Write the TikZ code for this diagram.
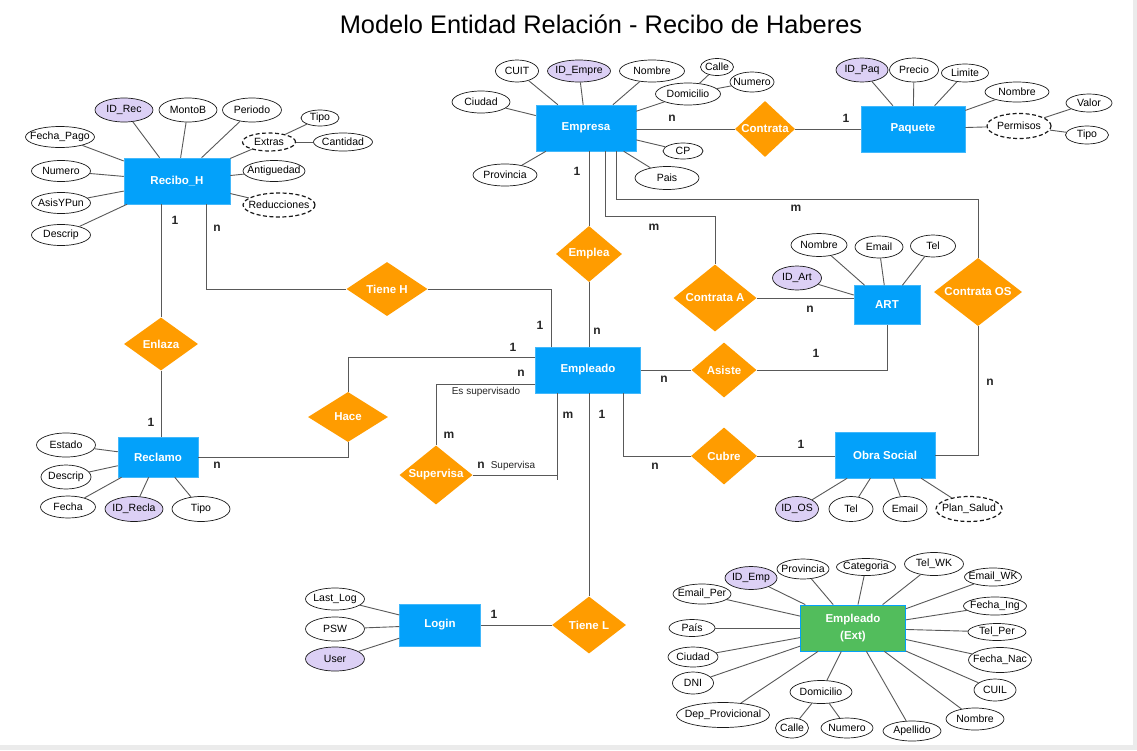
\documentclass[tikz,border=0pt]{standalone}
\usepackage{fontspec}
\setmainfont{Liberation Sans}
\usetikzlibrary{shapes.geometric}
\definecolor{entblue}{HTML}{03A1FA}
\definecolor{relor}{HTML}{FF9C00}
\definecolor{keyfill}{HTML}{DCD0F5}
\definecolor{extgreen}{HTML}{52BD5C}
\definecolor{lncol}{HTML}{595959}
\newcommand\entfont{\fontsize{11.5}{17}\selectfont\bfseries}
\begin{document}
\begin{tikzpicture}[x=1pt,y=-1pt,
  sz/.style 2 args={minimum width=#1pt, minimum height=#2pt},
  ent/.style={rectangle, fill=entblue, draw=entblue!75!white, line width=0.5pt, text=white, font=\entfont, inner sep=0pt, align=center},
  reltxt/.style={text=white, font=\entfont, inner sep=0pt},
  rel/.style={diamond, fill=relor, inner sep=0pt, label={[reltxt]center:#1}},
  attrtxt/.style={font=\fontsize{10.5}{12}\selectfont, inner sep=0pt, text=black},
  attr/.style={ellipse, draw=black!90, line width=0.7pt, fill=white, inner sep=0pt, label={[attrtxt]center:#1}},
  keyattr/.style={attr=#1, fill=keyfill},
  multi/.style={attr=#1, dash pattern=on 4pt off 2.5pt, line width=1.2pt},
  card/.style={font=\fontsize{12}{14}\selectfont\bfseries, text=black!85, inner sep=0pt},
  note/.style={font=\fontsize{10}{12}\selectfont, text=black!85, inner sep=0pt},
  conn/.style={draw=lncol, line width=0.9pt}
]
\useasboundingbox (0,0) rectangle (1137,750);
\fill[white] (0,0) rectangle (1137,750);
\fill[black!8] (1133,0) rectangle (1137,750);
\fill[black!8] (0,745) rectangle (1137,750);

\node[font=\fontsize{25.4}{30}\selectfont] (title) at (601,24) {Modelo Entidad Relación - Recibo de Haberes};

% entities
\node[ent, sz={106}{46}] (recibo) at (177,181) {Recibo\_H};
\node[ent, sz={100}{46}] (empresa) at (586,128) {Empresa};
\node[ent, sz={104}{46}] (paquete) at (913,129) {Paquete};
\node[ent, sz={66}{39}] (art) at (887,305) {ART};
\node[ent, sz={105}{46}] (empleado) at (588,370) {Empleado};
\node[ent, sz={80}{40}] (reclamo) at (158,457) {Reclamo};
\node[ent, sz={100}{46}] (os) at (885,455) {Obra Social};
\node[ent, sz={81}{42}] (login) at (440,625) {Login};
\node[ent, fill=extgreen, draw=entblue, line width=0.8pt, sz={105}{46}] (ext) at (853,628) {Empleado\\(Ext)};

% relationships
\node[rel=Contrata, sz={60}{56}] (contrata) at (765,129) {};
\node[rel=Emplea, sz={66}{56}] (emplea) at (589,254) {};
\node[rel=Contrata A, sz={83}{67}] (ca) at (715,298) {};
\node[rel=Contrata OS, sz={88}{68}] (cos) at (978,292) {};
\node[rel=Tiene H, sz={81}{54}] (tieneh) at (387,289) {};
\node[rel=Enlaza, sz={74}{53}] (enlaza) at (161,344) {};
\node[rel=Asiste, sz={65}{55}] (asiste) at (724,370) {};
\node[rel=Hace, sz={80}{50}] (hace) at (348,417) {};
\node[rel=Supervisa, sz={73}{59}] (sup) at (436,475) {};
\node[rel=Cubre, sz={66}{57}] (cubre) at (724,456) {};
\node[rel=Tiene L, sz={74}{57}] (tienel) at (589,625) {};

% relationship connectors
\draw[conn] (contrata.west -| empresa.east) -- (contrata.west);
\draw[conn] (contrata.east) -- (contrata.east -| paquete.west);
\draw[conn] (emplea.north |- empresa.south) -- (emplea.north);
\draw[conn] (emplea.south) -- (emplea.south |- empleado.north);
\draw[conn] ([xshift=19pt]empresa.south) -- ++(0,65) -| (ca.north);
\draw[conn] ([xshift=30pt]empresa.south) -- ++(0,48) -| (cos.north);
\draw[conn] (ca.east) -- (ca.east -| art.west);
\draw[conn] (cos.south) |- (os.east);
\draw[conn] (empleado.east) -- (asiste.west);
\draw[conn] (asiste.east) -| (art.south);
\draw[conn] ([xshift=35pt]empleado.south) |- (cubre.west);
\draw[conn] (cubre.east) -- (cubre.east -| os.west);
\draw[conn] (tienel.north |- empleado.south) -- (tienel.north);
\draw[conn] (tienel.west) -- (tienel.west -| login.east);
\draw[conn] ([yshift=-14pt]empleado.west) -| (sup.north);
\coordinate (sv) at ([xshift=-31pt]empleado.south);
\draw[conn] (sv) -- ++(0,87);
\draw[conn] (sup.east) -- (sup.east -| sv);
\draw[conn] ([yshift=13pt]empleado.west) -| (hace.north);
\draw[conn] (hace.south) |- (reclamo.east);
\draw[conn] (tieneh.east) -| ([xshift=-37pt]empleado.north);
\draw[conn] ([xshift=29pt]recibo.south) |- (tieneh.west);
\draw[conn] (enlaza.north |- recibo.south) -- (enlaza.north);
\draw[conn] (enlaza.south) -- (enlaza.south |- reclamo.north);

% cardinalities
\node[card] (k1) at (672,118) {n};
\node[card] (k2) at (846,118) {1};
\node[card] (k3) at (577,171) {1};
\node[card] (k4) at (597,331) {n};
\node[card] (k5) at (654,227) {m};
\node[card] (k6) at (796,208) {m};
\node[card] (k7) at (810,309) {n};
\node[card] (k8) at (990,382) {n};
\node[card] (k9) at (664,379) {n};
\node[card] (k10) at (816,353) {1};
\node[card] (k11) at (655,466) {n};
\node[card] (k12) at (801,444) {1};
\node[card] (k13) at (602,414) {1};
\node[card] (k14) at (494,614) {1};
\node[card] (k15) at (521,373) {n};
\node[card] (k16) at (449,435) {m};
\node[card] (k17) at (481,465) {n};
\node[card] (k18) at (568,415) {m};
\node[card] (k19) at (540,325) {1};
\node[card] (k20) at (217,228) {n};
\node[card] (k21) at (175,220) {1};
\node[card] (k22) at (151,422) {1};
\node[card] (k23) at (217,465) {n};
\node[card] (k24) at (513,347) {1};
\node[note] (t1) at (486,392) {Es supervisado};
\node[note] (t2) at (513,466) {Supervisa};

% Recibo_H attributes
\node[keyattr=ID\_Rec, sz={58}{24}] (r1) at (124,110) {};
\node[attr=MontoB, sz={58}{24}] (r2) at (188,110) {};
\node[attr=Periodo, sz={59}{24}] (r3) at (252,110) {};
\node[attr=Tipo, sz={38}{16}] (r4) at (320,118) {};
\node[multi=Extras, sz={53}{18}] (r5) at (269,142) {};
\node[attr=Cantidad, sz={59}{18}] (r6) at (343,142) {};
\node[attr=Fecha\_Pago, sz={69}{21}] (r7) at (60,137) {};
\node[attr=Numero, sz={59}{21}] (r8) at (61,171) {};
\node[attr=AsisYPun, sz={59}{21}] (r9) at (61,203) {};
\node[attr=Descrip, sz={59}{21}] (r10) at (61,235) {};
\node[attr=Antiguedad, sz={62}{21}] (r11) at (274,171) {};
\node[multi=Reducciones, sz={72}{24}] (r12) at (279,205) {};
\foreach \a in {r1,r2,r3,r5,r7,r8,r9,r10,r11,r12} \draw[conn] (\a) -- (recibo);
\draw[conn] (r5) -- (r4);
\draw[conn] (r5) -- (r6);

% Empresa attributes
\node[attr=CUIT, sz={43}{22}] (e1) at (517,71) {};
\node[keyattr=ID\_Empre, sz={63}{22}] (e2) at (579,71) {};
\node[attr=Nombre, sz={65}{22}] (e3) at (652,71) {};
\node[attr=Calle, sz={33}{17}] (e4) at (717,67) {};
\node[attr=Numero, sz={44}{20}] (e5) at (752,82) {};
\node[attr=Domicilio, sz={65}{22}] (e6) at (688,94) {};
\node[attr=Ciudad, sz={58}{22}] (e7) at (481,102) {};
\node[attr=CP, sz={40}{16}] (e8) at (683,151) {};
\node[attr=Pais, sz={64}{23}] (e9) at (667,178) {};
\node[attr=Provincia, sz={64}{22}] (e10) at (505,175) {};
\foreach \a in {e1,e2,e3,e6,e7,e8,e9,e10} \draw[conn] (\a) -- (empresa);
\draw[conn] (e6) -- (e4);
\draw[conn] (e6) -- (e5);

% Paquete attributes
\node[keyattr=ID\_Paq, sz={52}{24}] (p1) at (862,70) {};
\node[attr=Precio, sz={49}{24}] (p2) at (914,70) {};
\node[attr=Limite, sz={47}{18}] (p3) at (965,73) {};
\node[attr=Nombre, sz={64}{20}] (p4) at (1017,92) {};
\node[multi=Permisos, sz={64}{25}] (p5) at (1019,126) {};
\node[attr=Valor, sz={46}{18}] (p6) at (1089,103) {};
\node[attr=Tipo, sz={43}{18}] (p7) at (1087,135) {};
\foreach \a in {p1,p2,p3,p4,p5} \draw[conn] (\a) -- (paquete);
\draw[conn] (p5) -- (p6);
\draw[conn] (p5) -- (p7);

% ART attributes
\node[attr=Nombre, sz={56}{23}] (a1) at (819,245) {};
\node[attr=Email, sz={48}{22}] (a2) at (879,247) {};
\node[attr=Tel, sz={45}{22}] (a3) at (933,246) {};
\node[keyattr=ID\_Art, sz={49}{24}] (a4) at (797,278) {};
\foreach \a in {a1,a2,a3,a4} \draw[conn] (\a) -- (art);

% Obra Social attributes
\node[keyattr=ID\_OS, sz={43}{25}] (o1) at (797,509) {};
\node[attr=Tel, sz={44}{25}] (o2) at (851,509) {};
\node[attr=Email, sz={44}{25}] (o3) at (905,509) {};
\node[multi=Plan\_Salud, sz={66}{25}] (o4) at (969,509) {};
\foreach \a in {o1,o2,o3,o4} \draw[conn] (\a) -- (os);

% Reclamo attributes
\node[attr=Estado, sz={59}{24}] (c1) at (66,445) {};
\node[attr=Descrip, sz={50}{24}] (c2) at (66,477) {};
\node[attr=Fecha, sz={55}{22}] (c3) at (68,507) {};
\node[keyattr=ID\_Recla, sz={58}{25}] (c4) at (134,509) {};
\node[attr=Tipo, sz={58}{25}] (c5) at (201,509) {};
\foreach \a in {c1,c2,c3,c4,c5} \draw[conn] (\a) -- (reclamo);

% Login attributes
\node[attr=Last\_Log, sz={59}{22}] (l1) at (335,599) {};
\node[attr=PSW, sz={59}{24}] (l2) at (335,629) {};
\node[keyattr=User, sz={59}{24}] (l3) at (335,659) {};
\foreach \a in {l1,l2,l3} \draw[conn] (\a) -- (login);

% Empleado (Ext) attributes
\node[keyattr=ID\_Emp, sz={52}{23}] (x1) at (751,578) {};
\node[attr=Provincia, sz={52}{20}] (x2) at (803,569) {};
\node[attr=Categoria, sz={59}{17}] (x3) at (866,567) {};
\node[attr=Tel\_WK, sz={59}{23}] (x4) at (934,564) {};
\node[attr=Email\_WK, sz={57}{18}] (x5) at (993,577) {};
\node[attr=Fecha\_Ing, sz={63}{18}] (x6) at (995,606) {};
\node[attr=Tel\_Per, sz={58}{17}] (x7) at (997,632) {};
\node[attr=Fecha\_Nac, sz={63}{25}] (x8) at (1000,660) {};
\node[attr=CUIL, sz={42}{22}] (x9) at (995,690) {};
\node[attr=Nombre, sz={58}{22}] (x10) at (975,719) {};
\node[attr=Apellido, sz={58}{20}] (x11) at (912,731) {};
\node[attr=Domicilio, sz={62}{23}] (x12) at (821,692) {};
\node[attr=Calle, sz={33}{20}] (x13) at (792,728) {};
\node[attr=Numero, sz={52}{20}] (x14) at (847,728) {};
\node[attr=Dep\_Provicional, sz={93}{25}] (x15) at (723,715) {};
\node[attr=DNI, sz={41}{22}] (x16) at (693,683) {};
\node[attr=Ciudad, sz={50}{20}] (x17) at (693,657) {};
\node[attr=País, sz={46}{17}] (x18) at (692,628) {};
\node[attr=Email\_Per, sz={58}{20}] (x19) at (702,594) {};
\foreach \a in {x1,x2,x3,x4,x5,x6,x7,x8,x9,x10,x11,x12,x15,x16,x17,x18,x19} \draw[conn] (\a) -- (ext);
\draw[conn] (x12) -- (x13);
\draw[conn] (x12) -- (x14);
\end{tikzpicture}
\end{document}
